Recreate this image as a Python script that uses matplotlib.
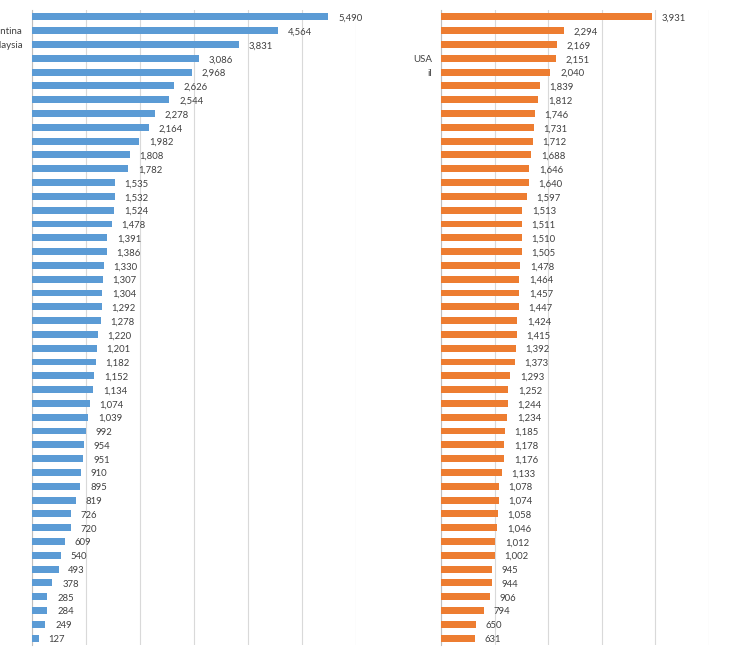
import numpy as np
import matplotlib.pyplot as plt

# 左图数据
left_vals = [5490, 4564, 3831, 3086, 2968, 2626, 2544, 2278, 2164, 1982, 1808, 1782,
             1535, 1532, 1524, 1478, 1391, 1386, 1330, 1307, 1304, 1292, 1278, 1220,
             1201, 1182, 1152, 1134, 1074, 1039, 992, 954, 951, 910, 895, 819, 726,
             720, 609, 540, 493, 378, 285, 284, 249, 127]
left_labels = [''] * len(left_vals)
left_labels[1] = 'Argentina'
left_labels[2] = 'Malaysia'

# 右图数据
right_vals = [3931, 2294, 2169, 2151, 2040, 1839, 1812, 1746, 1731, 1712, 1688, 1646,
              1640, 1597, 1513, 1511, 1510, 1505, 1478, 1464, 1457, 1447, 1424, 1415,
              1392, 1373, 1293, 1252, 1244, 1234, 1185, 1178, 1176, 1133, 1078, 1074,
              1058, 1046, 1012, 1002, 945, 944, 906, 794, 650, 631]
right_labels = [''] * len(right_vals)
right_labels[3] = 'USA'
right_labels[4] = 'il'

plt.rcParams['font.family'] = ['Lato', 'DejaVu Sans']


def draw_panel(ax, vals, labels, color, xmax):
    n = len(vals)
    y = np.arange(n)
    ax.barh(y, vals, height=0.5, color=color, zorder=3)
    ax.set_ylim(n - 0.5, -0.5)
    ax.set_xlim(0, xmax)
    ax.set_xticks(np.arange(0, xmax + 1, 1000))
    ax.set_xticklabels([])
    ax.tick_params(axis='x', length=0)
    ax.tick_params(axis='y', length=0, labelsize=7, labelcolor='#404040', pad=6.5)
    ax.set_yticks(y)
    ax.set_yticklabels(labels)
    ax.grid(axis='x', color='#D9D9D9', linewidth=0.8, zorder=0)
    for s in ['top', 'right', 'bottom']:
        ax.spines[s].set_visible(False)
    ax.spines['left'].set_color('#BFBFBF')
    ax.spines['left'].set_linewidth(0.8)
    for i, v in enumerate(vals):
        ax.annotate('{:,}'.format(v), (v, i), xytext=(7, -1), textcoords='offset points',
                    va='center', ha='left', fontsize=6.8, color='#404040')


fig = plt.figure(figsize=(7.56, 6.52), dpi=100)
ax1 = fig.add_axes([32 / 756, 7 / 652, 324 / 756, 635 / 652])
ax2 = fig.add_axes([441 / 756, 7 / 652, 268 / 756, 635 / 652])

draw_panel(ax1, left_vals, left_labels, '#5B9BD5', 6000)
draw_panel(ax2, right_vals, right_labels, '#ED7D31', 5000)

fig.savefig('out.png', dpi=100)
